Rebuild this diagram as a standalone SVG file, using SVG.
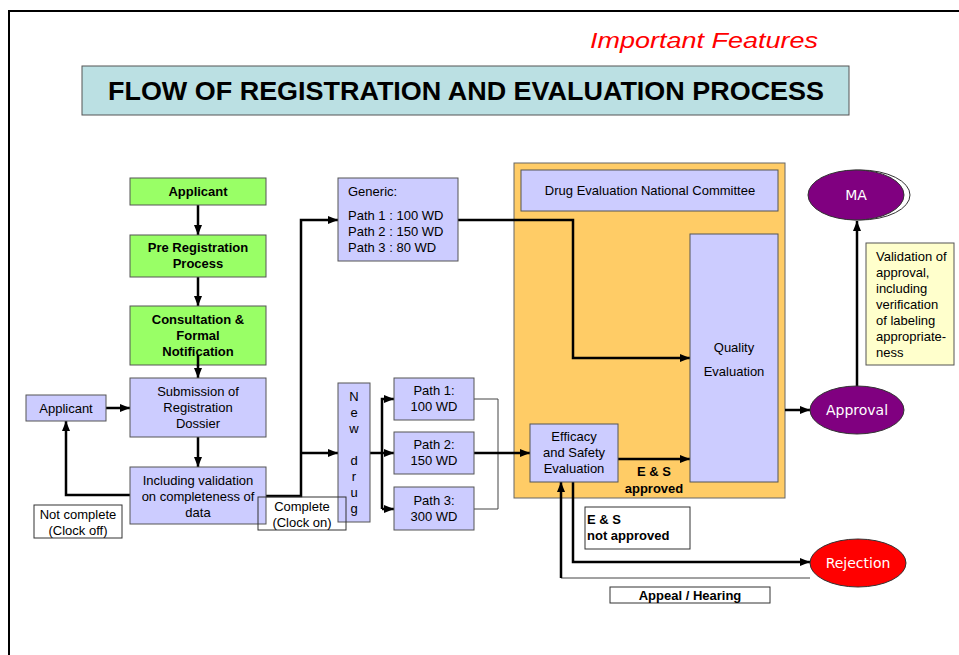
<svg xmlns="http://www.w3.org/2000/svg" width="959" height="655" viewBox="0 0 959 655">
<defs>
<marker id="ah" markerWidth="10" markerHeight="8" refX="10" refY="4" orient="auto" markerUnits="userSpaceOnUse">
<path d="M0,0 L10,4 L0,8 Z" fill="#000"/>
</marker>
<style>
.t{font-family:"Liberation Sans",Arial,sans-serif;font-size:13px;fill:#000;text-anchor:middle}
.b{font-weight:bold}
.green{fill:#99FF66;stroke:#555;stroke-width:1}
.blue{fill:#CCCCFF;stroke:#555;stroke-width:1}
.wbox{fill:#fff;stroke:#333;stroke-width:1}
.c{fill:none;stroke:#000;stroke-width:2.5}
.thin{fill:none;stroke:#444;stroke-width:1}
.ell{font-family:"DejaVu Sans",Verdana,sans-serif;font-size:14px;fill:#fff;text-anchor:middle}
</style>
</defs>
<rect width="959" height="655" fill="#fff"/>
<path d="M959,11 L9,11 L9,655" fill="none" stroke="#000" stroke-width="2"/>
<text x="704" y="48" font-family="Liberation Sans,Arial,sans-serif" font-size="22" font-style="italic" fill="#FF0000" text-anchor="middle" textLength="228" lengthAdjust="spacingAndGlyphs">Important Features</text>
<g id="title">
<rect x="82" y="66" width="767" height="49" fill="#BBE0E3" stroke="#555" stroke-width="1"/>
<text x="466" y="100" font-family="Liberation Sans,Arial,sans-serif" font-size="25" font-weight="bold" text-anchor="middle" textLength="716" lengthAdjust="spacingAndGlyphs">FLOW OF REGISTRATION AND EVALUATION PROCESS</text>
</g>
<g id="orange-panel"><rect x="514" y="163" width="271" height="335" fill="#FFCC66" stroke="#666" stroke-width="1"/></g>
<g id="connectors">
<line class="c" x1="198" y1="205" x2="198" y2="235" marker-end="url(#ah)"/>
<line class="c" x1="198" y1="277" x2="198" y2="306" marker-end="url(#ah)"/>
<line class="c" x1="198" y1="355" x2="198" y2="378" marker-end="url(#ah)"/>
<line class="c" x1="198" y1="437" x2="198" y2="467" marker-end="url(#ah)"/>
<line class="c" x1="106" y1="408" x2="130" y2="408" marker-end="url(#ah)"/>
<path class="c" d="M130,495 L66,495 L66,421" marker-end="url(#ah)"/>
<path class="c" d="M266,496 L301,496 L301,220 L338,220" marker-end="url(#ah)"/>
<line class="c" x1="301" y1="453" x2="338" y2="453" marker-end="url(#ah)"/>
<line class="c" x1="370" y1="453" x2="394" y2="453" marker-end="url(#ah)"/>
<path class="c" d="M382,509 L382,399 L394,399" marker-end="url(#ah)"/>
<path class="c" d="M382,509 L394,509" marker-end="url(#ah)"/>
<path class="thin" d="M474,399 L498,399 L498,509 L474,509"/>
<line class="c" x1="474" y1="453" x2="530" y2="453" marker-end="url(#ah)"/>
<path class="c" d="M458,220 L573,220 L573,358 L690,358" marker-end="url(#ah)"/>
<line class="c" x1="618" y1="459" x2="690" y2="459" marker-end="url(#ah)"/>
<line class="c" x1="785" y1="410" x2="810" y2="410" marker-end="url(#ah)"/>
<line class="c" x1="857" y1="386" x2="857" y2="221" marker-end="url(#ah)"/>
<path class="c" d="M573,482 L573,562 L810,562" marker-end="url(#ah)"/>
<path class="thin" d="M810,578 L561,578"/>
<line class="c" x1="561" y1="578" x2="561" y2="482" marker-end="url(#ah)"/>
</g>
<g id="applicant-top"><rect class="green" x="130" y="178" width="136" height="27"/><text class="t b" x="198" y="196">Applicant</text></g>
<g id="pre-registration"><rect class="green" x="130" y="235" width="136" height="42"/><text class="t b" x="198" y="252">Pre Registration</text><text class="t b" x="198" y="268">Process</text></g>
<g id="consultation"><rect class="green" x="130" y="306" width="136" height="59"/><text class="t b" x="198" y="324">Consultation &amp;</text><text class="t b" x="198" y="340">Formal</text><text class="t b" x="198" y="356">Notification</text></g>
<line class="c" x1="198" y1="355" x2="198" y2="366"/>
<g id="submission"><rect class="blue" x="130" y="378" width="136" height="59"/><text class="t" x="198" y="396">Submission of</text><text class="t" x="198" y="412">Registration</text><text class="t" x="198" y="428">Dossier</text></g>
<g id="applicant-left"><rect class="blue" x="26" y="395" width="80" height="26"/><text class="t" x="66" y="413">Applicant</text></g>
<g id="validation"><rect class="blue" x="130" y="467" width="136" height="57"/><text class="t" x="198" y="485">Including validation</text><text class="t" x="198" y="501">on completeness of</text><text class="t" x="198" y="517">data</text></g>
<g id="not-complete"><rect class="wbox" x="34" y="505" width="88" height="33"/><text class="t" x="78" y="519">Not complete</text><text class="t" x="78" y="535">(Clock off)</text></g>
<g id="generic"><rect class="blue" x="338" y="178" width="120" height="83"/>
<text class="t" x="348" y="196" style="text-anchor:start">Generic:</text>
<text class="t" x="348" y="220" style="text-anchor:start">Path 1 : 100 WD</text>
<text class="t" x="348" y="236" style="text-anchor:start">Path 2 : 150 WD</text>
<text class="t" x="348" y="252" style="text-anchor:start">Path 3 : 80 WD</text></g>
<g id="new-drug"><rect class="blue" x="338" y="383" width="32" height="139"/>
<text class="t" x="354" y="401">N</text><text class="t" x="354" y="417">e</text><text class="t" x="354" y="433">w</text>
<text class="t" x="354" y="465">d</text><text class="t" x="354" y="481">r</text><text class="t" x="354" y="497">u</text><text class="t" x="354" y="513">g</text></g>
<g id="complete"><rect class="wbox" x="258" y="497" width="88" height="33" fill-opacity="0"/><text class="t" x="302" y="511">Complete</text><text class="t" x="302" y="527">(Clock on)</text></g>
<g id="path1"><rect class="blue" x="394" y="378" width="80" height="42"/><text class="t" x="434" y="395">Path 1:</text><text class="t" x="434" y="411">100 WD</text></g>
<g id="path2"><rect class="blue" x="394" y="432" width="80" height="42"/><text class="t" x="434" y="449">Path 2:</text><text class="t" x="434" y="465">150 WD</text></g>
<g id="path3"><rect class="blue" x="394" y="487" width="80" height="43"/><text class="t" x="434" y="505">Path 3:</text><text class="t" x="434" y="521">300 WD</text></g>
<g id="committee"><rect class="blue" x="521" y="170" width="257" height="41"/><text class="t" x="650" y="195">Drug Evaluation National Committee</text></g>
<g id="quality"><rect class="blue" x="690" y="234" width="88" height="248"/><text class="t" x="734" y="352">Quality</text><text class="t" x="734" y="376">Evaluation</text></g>
<g id="efficacy"><rect class="blue" x="530" y="424" width="88" height="58"/><text class="t" x="574" y="441">Efficacy</text><text class="t" x="574" y="457">and Safety</text><text class="t" x="574" y="473">Evaluation</text></g>
<g id="es-approved"><text class="t b" x="654" y="476">E &amp; S</text><text class="t b" x="654" y="493">approved</text></g>
<g id="es-not-approved"><rect class="wbox" x="585" y="507" width="105" height="42"/><text class="t b" x="587" y="524" style="text-anchor:start">E &amp; S</text><text class="t b" x="587" y="540" style="text-anchor:start">not approved</text></g>
<g id="appeal"><rect class="wbox" x="610" y="587" width="160" height="16"/><text class="t b" x="690" y="600">Appeal / Hearing</text></g>
<g id="ma"><ellipse cx="860" cy="195" rx="50" ry="25" fill="none" stroke="#333" stroke-width="1"/><ellipse cx="856" cy="195" rx="48" ry="25" fill="#800080" stroke="#333" stroke-width="1"/><text class="ell" x="856" y="200">MA</text></g>
<g id="validation-note"><rect x="866" y="243" width="88" height="122" fill="#FFFFCC" stroke="#555" stroke-width="1"/>
<text class="t" x="876" y="261" style="text-anchor:start">Validation of</text>
<text class="t" x="876" y="277" style="text-anchor:start">approval,</text>
<text class="t" x="876" y="293" style="text-anchor:start">including</text>
<text class="t" x="876" y="309" style="text-anchor:start">verification</text>
<text class="t" x="876" y="325" style="text-anchor:start">of labeling</text>
<text class="t" x="876" y="341" style="text-anchor:start">appropriate-</text>
<text class="t" x="876" y="357" style="text-anchor:start">ness</text></g>
<g id="approval"><ellipse cx="857" cy="410" rx="47" ry="24" fill="#800080" stroke="#333" stroke-width="1"/><text class="ell" x="857" y="415">Approval</text></g>
<g id="rejection"><ellipse cx="858" cy="563" rx="48" ry="24" fill="#FF0000" stroke="#333" stroke-width="1"/><text class="ell" x="858" y="568">Rejection</text></g>
</svg>
